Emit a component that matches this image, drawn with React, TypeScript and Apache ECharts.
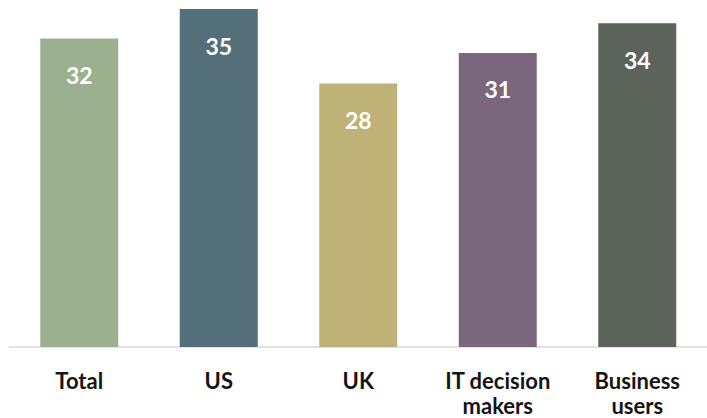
import React, { useEffect, useRef } from "react";
import * as echarts from "echarts";

const categories = ["Total", "US", "UK", "IT decision\nmakers", "Business\nusers"];
const values = [32.3, 35.4, 27.6, 30.8, 33.9];
const colors = ["#9AB08F", "#526F7A", "#BFB277", "#7B677D", "#5B635B"];

export default function App() {
  const ref = useRef<HTMLDivElement>(null);
  useEffect(() => {
    if (!ref.current) return;
    const chart = echarts.init(ref.current, null, { renderer: "svg" });
    chart.setOption({
      animation: false,
      grid: { left: 9.5, right: 0, top: 9, bottom: 69, containLabel: false },
      xAxis: {
        type: "category",
        data: categories,
        axisLine: { lineStyle: { color: "#D9D9D9", width: 1.5 } },
        axisTick: { show: false },
        axisLabel: {
          color: "#151515",
          fontFamily: "Lato",
          fontWeight: 700,
          fontSize: 22,
          lineHeight: 25,
          margin: 21,
          interval: 0,
        },
      },
      yAxis: {
        type: "value",
        min: 0,
        max: 35.4,
        show: false,
        splitLine: { show: false },
      },
      series: [
        {
          type: "bar",
          barWidth: 78,
          data: values.map((v, i) => ({ value: v, itemStyle: { color: colors[i] } })),
          label: {
            show: true,
            position: "insideTop",
            distance: 25,
            color: "#fff",
            fontFamily: "Lato",
            fontWeight: 700,
            fontSize: 23,
            formatter: (p: any) => String(Math.round(p.value)),
          },
        },
      ],
    });
    return () => chart.dispose();
  }, []);
  return (
    <div
      ref={ref}
      style={{ position: "fixed", left: 0, top: 0, width: 707, height: 418, background: "#fff" }}
    />
  );
}
